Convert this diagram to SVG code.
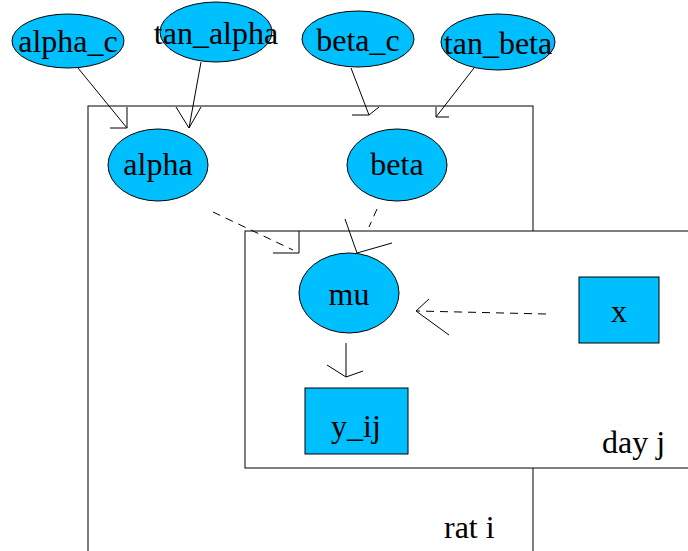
<svg xmlns="http://www.w3.org/2000/svg" width="688" height="551" viewBox="0 0 688 551">
  <style>
    .plate { fill: #fff; stroke: #000; stroke-width: 1; }
    .node { fill: #00bfff; stroke: #000; stroke-width: 1; }
    .lbl { font-family: "Liberation Serif", "Times New Roman", serif; font-size: 32px; fill: #000; text-anchor: middle; }
    .plbl { font-family: "Liberation Serif", "Times New Roman", serif; font-size: 32px; fill: #000; }
    .edge { fill: none; stroke: #000; stroke-width: 1; }
    .dash { stroke-dasharray: 8 6; }
  </style>

  <!-- plates -->
  <g id="plate-rat">
    <rect class="plate" x="88" y="106" width="445" height="460"/>
    <text class="plbl" x="444" y="538">rat i</text>
  </g>
  <g id="plate-day">
    <rect class="plate" x="245" y="231" width="460" height="237"/>
    <text class="plbl" x="602" y="453">day j</text>
  </g>

  <!-- connectors -->
  <g id="edges">
    <!-- alpha_c -> alpha -->
    <path class="edge" d="M78,68 L127,128 M127,107 L127,128 L110,128"/>
    <!-- tan_alpha -> alpha -->
    <path class="edge" d="M201,62 L189,128 M176,107 L189,128 L201,107"/>
    <!-- beta_c -> beta -->
    <path class="edge" d="M351,68 L369,115 M352,115 L369,115 L379,107"/>
    <!-- tan_beta -> beta -->
    <path class="edge" d="M474,68 L436,117 M436,107 L436,117 L449,117"/>
    <!-- alpha -> mu -->
    <path class="edge dash" d="M213,212 L293,250"/>
    <path class="edge" d="M299,231 L299,253 L273,253"/>
    <!-- beta -> mu -->
    <path class="edge dash" d="M377,209 L369,227"/>
    <path class="edge" d="M345,219 L357,253 L392,243"/>
    <!-- x -> mu -->
    <path class="edge dash" d="M546,314 L417,311"/>
    <path class="edge" d="M429,299 L416,311 L449,335"/>
    <!-- mu -> y_ij -->
    <path class="edge" d="M346,343 L346,377 M327,365 L346,377 L363,371"/>
  </g>

  <!-- nodes -->
  <g id="alpha_c">
    <ellipse class="node" cx="68" cy="41" rx="56" ry="27"/>
    <text class="lbl" x="68" y="52">alpha_c</text>
  </g>
  <g id="tan_alpha">
    <ellipse class="node" cx="216" cy="32" rx="56" ry="30"/>
    <text class="lbl" x="216" y="44">tan_alpha</text>
  </g>
  <g id="beta_c">
    <ellipse class="node" cx="358" cy="39" rx="56" ry="28"/>
    <text class="lbl" x="358" y="51">beta_c</text>
  </g>
  <g id="tan_beta">
    <ellipse class="node" cx="498" cy="42" rx="57" ry="28"/>
    <text class="lbl" x="498" y="54">tan_beta</text>
  </g>
  <g id="alpha">
    <ellipse class="node" cx="158" cy="165" rx="50" ry="36"/>
    <text class="lbl" x="158" y="175">alpha</text>
  </g>
  <g id="beta">
    <ellipse class="node" cx="397" cy="165" rx="50" ry="36"/>
    <text class="lbl" x="397" y="175">beta</text>
  </g>
  <g id="mu">
    <ellipse class="node" cx="349" cy="293" rx="50" ry="40"/>
    <text class="lbl" x="349" y="305">mu</text>
  </g>
  <g id="x">
    <rect class="node" x="579" y="277" width="80" height="66"/>
    <text class="lbl" x="619" y="322">x</text>
  </g>
  <g id="y_ij">
    <rect class="node" x="305" y="388" width="103" height="66"/>
    <text class="lbl" x="356" y="437">y_ij</text>
  </g>
</svg>
